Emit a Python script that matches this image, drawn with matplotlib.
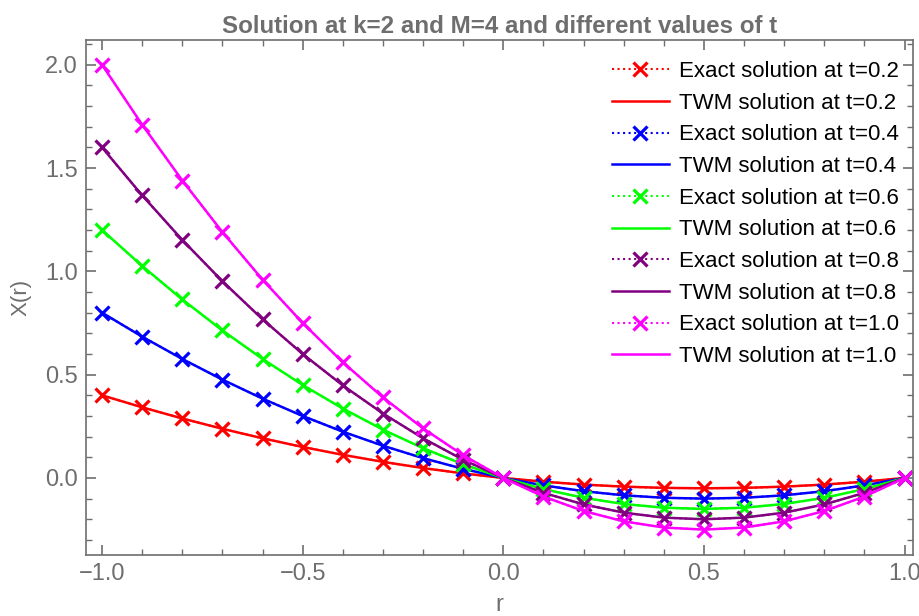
import numpy as np
import matplotlib.pyplot as plt
from matplotlib.ticker import MultipleLocator

plt.rcParams['font.family'] = ['Liberation Sans', 'DejaVu Sans']

r = [-1.0, -0.9, -0.8, -0.7, -0.6, -0.5, -0.4, -0.3, -0.2, -0.1, 0.0,
     0.1, 0.2, 0.3, 0.4, 0.5, 0.6, 0.7, 0.8, 0.9, 1.0]

# values, one list per time
x_t02 = [0.40, 0.342, 0.288, 0.238, 0.192, 0.150, 0.112, 0.078, 0.048, 0.022, 0.0,
         -0.018, -0.032, -0.042, -0.048, -0.050, -0.048, -0.042, -0.032, -0.018, 0.0]
x_t04 = [0.80, 0.684, 0.576, 0.476, 0.384, 0.300, 0.224, 0.156, 0.096, 0.044, 0.0,
         -0.036, -0.064, -0.084, -0.096, -0.100, -0.096, -0.084, -0.064, -0.036, 0.0]
x_t06 = [1.20, 1.026, 0.864, 0.714, 0.576, 0.450, 0.336, 0.234, 0.144, 0.066, 0.0,
         -0.054, -0.096, -0.126, -0.144, -0.150, -0.144, -0.126, -0.096, -0.054, 0.0]
x_t08 = [1.60, 1.368, 1.152, 0.952, 0.768, 0.600, 0.448, 0.312, 0.192, 0.088, 0.0,
         -0.072, -0.128, -0.168, -0.192, -0.200, -0.192, -0.168, -0.128, -0.072, 0.0]
x_t10 = [2.00, 1.710, 1.440, 1.190, 0.960, 0.750, 0.560, 0.390, 0.240, 0.110, 0.0,
         -0.090, -0.160, -0.210, -0.240, -0.250, -0.240, -0.210, -0.160, -0.090, 0.0]

times = ['0.2', '0.4', '0.6', '0.8', '1.0']
series = [x_t02, x_t04, x_t06, x_t08, x_t10]
colors = ['#ff0000', '#0000ff', '#00ff00', '#800080', '#ff00ff']

gray = '#6e6e6e'

fig = plt.figure(figsize=(9.2, 6.16), dpi=100)
ax = fig.add_axes([0.0935, 0.099, 0.8985, 0.836])

for t, y, c in zip(times, series, colors):
    ax.plot(r, y, ls=':', color=c, marker='x', ms=10.5, mew=2.3,
            label='Exact solution at t=' + t)
    ax.plot(r, y, ls='-', color=c, lw=1.8,
            label='TWM solution at t=' + t)

ax.set_xlim(-1.04, 1.02)
ax.set_ylim(-0.373, 2.12)

ax.xaxis.set_major_locator(MultipleLocator(0.5))
ax.xaxis.set_minor_locator(MultipleLocator(0.1))
ax.yaxis.set_major_locator(MultipleLocator(0.5))
ax.yaxis.set_minor_locator(MultipleLocator(0.1))
ax.tick_params(which='both', direction='in', top=True, right=True, color=gray)
ax.tick_params(which='major', length=7, width=1.2, labelsize=17, labelcolor=gray, pad=6)
ax.tick_params(which='minor', length=4, width=1)
for s in ax.spines.values():
    s.set_color(gray)
    s.set_linewidth(1.2)

ax.set_title('Solution at k=2 and M=4 and different values of t',
             fontsize=17.4, fontweight='bold', color=gray, pad=5)
ax.set_xlabel('r', fontsize=17, color=gray, labelpad=6)
ax.set_ylabel('X(r)', fontsize=16, color=gray, labelpad=10)

leg = ax.legend(loc='upper right', frameon=False, fontsize=16,
                handlelength=2.6, labelspacing=0.48, borderaxespad=0.2,
                handletextpad=0.45, bbox_to_anchor=(1.0, 0.985))

fig.savefig('out.png', dpi=100)
